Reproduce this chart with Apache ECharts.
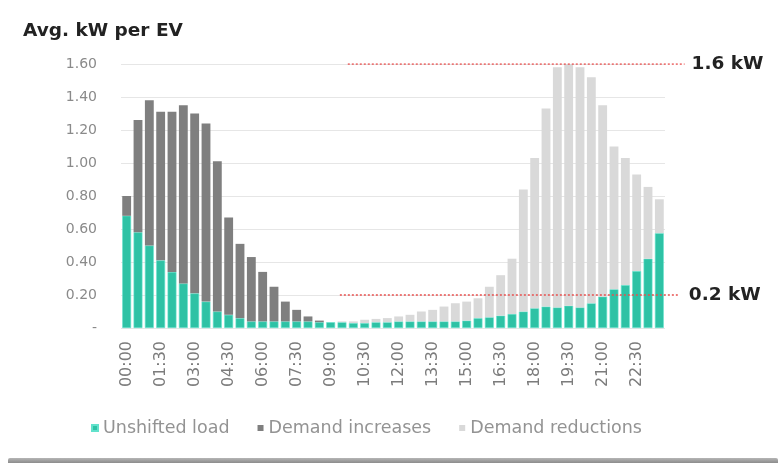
<!DOCTYPE html>
<html>
<head>
<meta charset="utf-8">
<script src="https://cdn.jsdelivr.net/npm/echarts@6/dist/echarts.min.js"></script>
<style>
  html, body { margin: 0; padding: 0; background: #fff; }
  #chart { width: 784px; height: 463px; }
  .edge { position: absolute; left: 8px; right: 6px; top: 458px; height: 5px;
          background: linear-gradient(#b5b5b5, #8c8c8c); border-radius: 2px 2px 0 0; }
</style>
</head>
<body>
<div id="chart"></div>
<div class="edge"></div>
<script>
const times = []
for (let h = 0; h < 24; h++) {
  const hh = String(h).padStart(2, '0')
  times.push(hh + ':00', hh + ':30')
}

// avg kW per EV, half-hourly
const unshifted = [
  0.68, 0.58, 0.50, 0.41, 0.34, 0.27, 0.21, 0.16, 0.10, 0.08, 0.06, 0.04,
  0.04, 0.04, 0.04, 0.04, 0.04, 0.035, 0.035, 0.035, 0.03, 0.03, 0.035, 0.035,
  0.04, 0.04, 0.04, 0.04, 0.04, 0.04, 0.045, 0.06, 0.065, 0.075, 0.085, 0.10,
  0.12, 0.13, 0.125, 0.135, 0.125, 0.15, 0.19, 0.235, 0.26, 0.345, 0.42, 0.575
]
const increases = [
  0.12, 0.68, 0.88, 0.90, 0.97, 1.08, 1.09, 1.08, 0.91, 0.59, 0.45, 0.39,
  0.30, 0.21, 0.12, 0.07, 0.03, 0.01, 0, 0, 0, 0, 0, 0,
  0, 0, 0, 0, 0, 0, 0, 0, 0, 0, 0, 0,
  0, 0, 0, 0, 0, 0, 0, 0, 0, 0, 0, 0
]
const reductions = [
  0, 0, 0, 0, 0, 0, 0, 0, 0, 0, 0, 0,
  0, 0, 0, 0, 0, 0, 0, 0.005, 0.01, 0.02, 0.02, 0.025,
  0.03, 0.04, 0.06, 0.07, 0.09, 0.11, 0.115, 0.12, 0.185, 0.245, 0.335, 0.74,
  0.91, 1.20, 1.455, 1.465, 1.455, 1.37, 1.16, 0.865, 0.77, 0.585, 0.435, 0.205
]

// reference lines: [start slot, end slot, value, label, label gap]
const refLines = [
  [19.5, 49.2, 1.6, '1.6 kW', 7],
  [18.8, 48.6, 0.2, '0.2 kW', 11]
]

const chart = echarts.init(document.getElementById('chart'))
const font = 'DejaVu Sans, Verdana, sans-serif'

const barBase = {
  type: 'bar',
  stack: 'total',
  barCategoryGap: '22%',
  animation: false,
  xAxisIndex: 0,
  yAxisIndex: 0
}

chart.setOption({
  textStyle: { fontFamily: font },
  title: {
    text: 'Avg. kW per EV',
    left: 18, top: 17,
    textStyle: { fontSize: 18.5, fontWeight: 'bold', color: '#222', fontFamily: font }
  },
  // second grid is wider so the reference lines can run past the bars
  grid: [
    { left: 121, right: 119, top: 64, bottom: 135 },
    { left: 121, right: 79, top: 64, bottom: 135 }
  ],
  legend: {
    bottom: 21, left: 86,
    itemWidth: 6, itemHeight: 6, itemGap: 28,
    icon: 'rect',
    textStyle: { color: '#939393', fontSize: 17.5, fontFamily: font },
    data: ['Unshifted load', 'Demand increases', 'Demand reductions']
  },
  xAxis: [
    {
      type: 'category',
      gridIndex: 0,
      data: times,
      axisLine: { show: false },
      axisTick: { show: false },
      axisLabel: {
        interval: 2, rotate: 90, color: '#7c7c7c', fontSize: 16, margin: 13, fontFamily: font
      }
    },
    {
      type: 'value',
      gridIndex: 1,
      min: -0.5, max: 51,
      show: false
    }
  ],
  yAxis: [
    {
      type: 'value',
      gridIndex: 0,
      min: 0, max: 1.6, interval: 0.2,
      axisLine: { show: false },
      axisTick: { show: false },
      axisLabel: {
        color: '#8a8a8a', fontSize: 14, margin: 24, fontFamily: font,
        formatter: (v) => (v === 0 ? '-' : v.toFixed(2))
      },
      splitLine: { lineStyle: { color: '#e6e6e6', width: 1 } }
    },
    {
      type: 'value',
      gridIndex: 1,
      min: 0, max: 1.6,
      show: false
    }
  ],
  series: [
    Object.assign({}, barBase, {
      name: 'Unshifted load', data: unshifted,
      itemStyle: { color: '#2ec2a5', borderColor: '#62e2cc', borderWidth: 0.6 }
    }),
    Object.assign({}, barBase, {
      name: 'Demand increases', data: increases,
      itemStyle: { color: '#7f7f7f' }
    }),
    Object.assign({}, barBase, {
      name: 'Demand reductions', data: reductions,
      itemStyle: { color: '#d9d9d9' }
    })
  ].concat(refLines.map((r) => ({
    type: 'line',
    xAxisIndex: 1,
    yAxisIndex: 1,
    animation: false,
    symbol: 'none',
    silent: true,
    z: 5,
    lineStyle: { color: '#e8504f', width: 1.3, type: [2, 2] },
    data: [[r[0], r[2]], [r[1], r[2]]],
    endLabel: {
      show: true,
      formatter: r[3],
      color: '#222',
      fontSize: 18.5,
      fontWeight: 'bold',
      fontFamily: font,
      distance: r[4]
    }
  })))
})
</script>
</body>
</html>
